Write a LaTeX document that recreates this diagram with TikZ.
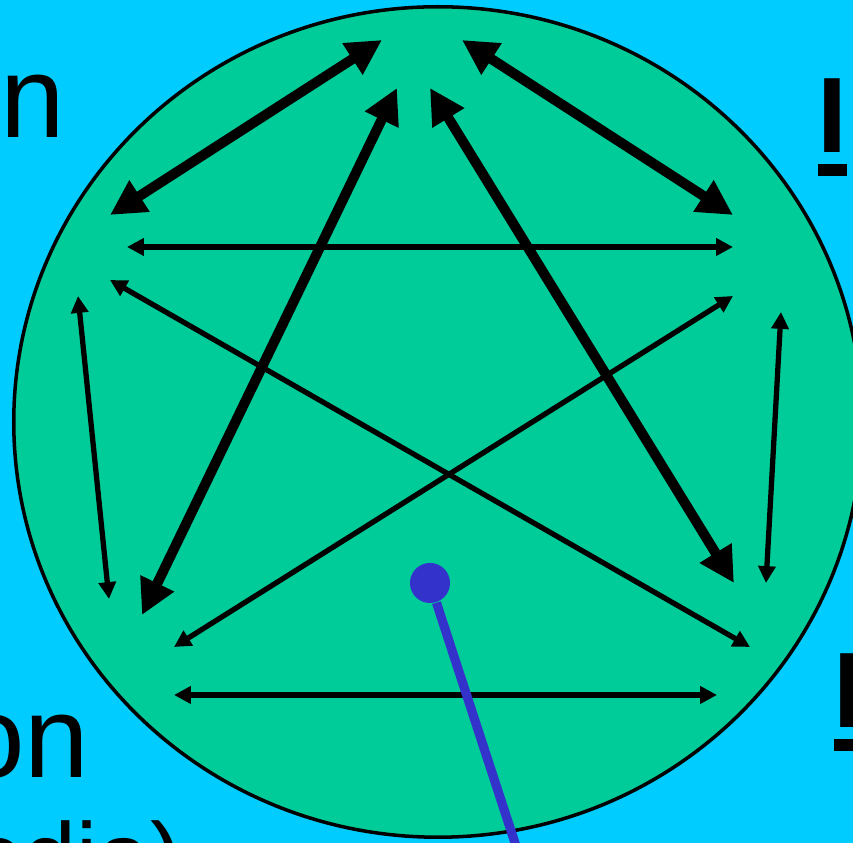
\documentclass[tikz,border=0pt]{standalone}
\usepackage{xcolor}
\usepackage{fontspec}
\setmainfont{Liberation Sans}
\usepackage{tikz}
\usetikzlibrary{
	arrows.meta,
	positioning,
	calc
}
\definecolor{sky}{HTML}{00CCFF}
\definecolor{disk}{HTML}{00CC99}
\definecolor{pinblue}{HTML}{3333CC}
\newcommand{\ulword}[1]{\setbox0=\hbox{#1}\rlap{\rule[-6.5pt]{\wd0}{3.4pt}}\box0}

\begin{document}
\begin{tikzpicture}[
				x=0.01cm, y=-0.01cm,
				word/.style={
					inner sep=0pt, anchor=base east,
					font=\fontsize{33}{40}\selectfont
				},
				smallword/.style={
					word, font=\fontsize{27}{32}\selectfont
				},
				keyword/.style={
					inner sep=0pt, anchor=base west,
					font=\fontsize{30.5}{36}\selectfont\bfseries
				},
				thickarrow/.style={
					{Triangle[length=10pt,width=10pt]}-{Triangle[length=10pt,width=10pt]},
					line width=2.85pt, black
				},
				thinarrow/.style={
					{Triangle[length=4.8pt,width=4.8pt]}-{Triangle[length=4.8pt,width=4.8pt]},
					line width=1.5pt, black
				},
				pinline/.style={line width=2.6pt, color=pinblue}
				]
				
				% page
				\useasboundingbox (0,0) rectangle (853,843);
				\clip (0,0) rectangle (853,843);
				\fill[sky] (0,0) rectangle (853,843);
				
				% disk
				\draw[line width=1pt, fill=disk] (438,422) ellipse [x radius=4.24cm, y radius=4.15cm];
				
				% texts at the edges
				\node[word] (topText) at (66,138) {en};
				\node[word] (bottomText) at (90,778) {on};
				\node[smallword] (mediaText) at (183,890) {(media)};
				\node[keyword] (topKey) at (817,153) {\ulword{I}};
				\node[keyword] (bottomKey) at (833,728) {\ulword{I}};
				
				% arrow ends
				\coordinate (topA) at (382,40);
				\coordinate (topB) at (462,40);
				\coordinate (topC) at (397,88);
				\coordinate (topD) at (430,88);
				\coordinate (leftA) at (110,215);
				\coordinate (leftB) at (127,247);
				\coordinate (leftC) at (110,280);
				\coordinate (leftD) at (78,296);
				\coordinate (rightA) at (733,215);
				\coordinate (rightB) at (733,247);
				\coordinate (rightC) at (733,296);
				\coordinate (rightD) at (781,312);
				\coordinate (lowLeftA) at (109,599);
				\coordinate (lowLeftB) at (142,615);
				\coordinate (lowLeftC) at (174,647);
				\coordinate (lowLeftD) at (174,695);
				\coordinate (lowRightA) at (766,583);
				\coordinate (lowRightB) at (734,583);
				\coordinate (lowRightC) at (750,647);
				\coordinate (lowRightD) at (717,695);
				
				% thick arrows
				\draw[thickarrow] (topA) -- (leftA);
				\draw[thickarrow] (topB) -- (rightA);
				\draw[thickarrow] (topC) -- (lowLeftB);
				\draw[thickarrow] (topD) -- (lowRightB);
				
				% thin arrows
				\draw[thinarrow] (leftB) -- (rightB);
				\draw[thinarrow] (leftC) -- (lowRightC);
				\draw[thinarrow] (rightC) -- (lowLeftC);
				\draw[thinarrow] (leftD) -- (lowLeftA);
				\draw[thinarrow] (rightD) -- (lowRightA);
				\draw[thinarrow] (lowLeftD) -- (lowRightD);
				
				% pin
				\node[circle, fill=pinblue, inner sep=0pt, minimum size=11.4pt] (pinDot) at (430,583) {};
				\coordinate (pinEnd) at (532,895);
				\draw[pinline] (pinDot) -- (pinEnd);
			\end{tikzpicture}
\end{document}
